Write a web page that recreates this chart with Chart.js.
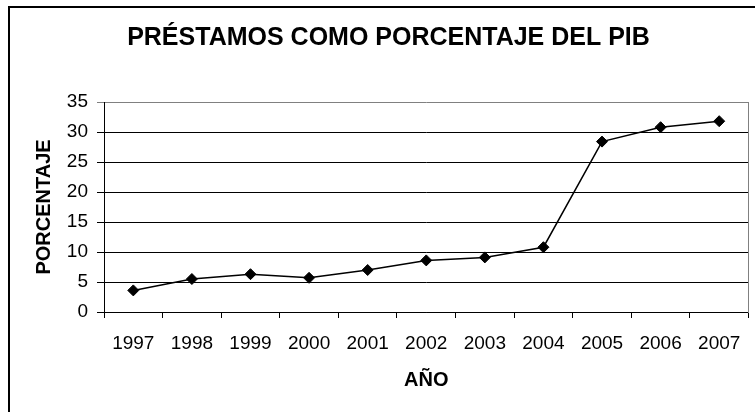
<!DOCTYPE html>
<html>
<head>
<meta charset="utf-8">
<script src="https://cdn.jsdelivr.net/npm/chart.js@4/dist/chart.umd.min.js"></script>
<style>
    html, body { margin: 0; padding: 0; background: #fff; overflow: hidden; }
    #marco { position: absolute; left: 8px; top: 6px; width: 900px; height: 600px; border-left: 2px solid #000; border-top: 2px solid #000; }
    #grafico { position: absolute; left: 0; top: 0; }
</style>
</head>
<body>
<div id="marco"></div>
<canvas id="grafico" width="755" height="412"></canvas>
<script>
const anios = ['1997', '1998', '1999', '2000', '2001', '2002', '2003', '2004', '2005', '2006', '2007'];
const porcentajes = [3.6, 5.5, 6.3, 5.7, 7.0, 8.6, 9.1, 10.8, 28.4, 30.8, 31.8];
const ejeY = { min: 0, max: 35, paso: 5 };

const titulo = 'PRÉSTAMOS COMO PORCENTAJE DEL PIB';
const tituloX = 'AÑO';
const tituloY = 'PORCENTAJE';

const fuente = "'Liberation Sans', Arial, sans-serif";

const ctx = document.getElementById('grafico').getContext('2d');
const miGrafico = new Chart(ctx, {
    type: 'line',
    data: {
        labels: anios,
        datasets: [{
            data: porcentajes,
            borderColor: '#000',
            backgroundColor: '#000',
            borderWidth: 1.5,
            tension: 0,
            pointStyle: 'rectRot',
            pointRadius: 5.5,
            pointBorderWidth: 1,
            pointBackgroundColor: '#000',
            pointBorderColor: '#000'
        }]
    },
    options: {
        responsive: false,
        animation: false,
        layout: { padding: { left: 26, right: 4, top: 0, bottom: 20 } },
        plugins: {
            legend: { display: false },
            tooltip: { enabled: false },
            title: {
                display: true,
                text: titulo,
                color: '#000',
                font: { family: fuente, size: 25, weight: 'bold' },
                padding: { top: 23, bottom: 49 }
            }
        },
        scales: {
            x: {
                offset: true,
                afterFit: (eje) => { eje.height = 80; },
                grid: { offset: true, drawOnChartArea: false, color: '#000', tickLength: 6 },
                border: { color: '#000', width: 1 },
                ticks: { color: '#000', padding: 14, maxRotation: 0, font: { family: fuente, size: 19 } },
                title: {
                    display: true,
                    text: tituloX,
                    color: '#000',
                    font: { family: fuente, size: 20, weight: 'bold' },
                    padding: { top: 0, bottom: 0 }
                }
            },
            y: {
                min: ejeY.min,
                max: ejeY.max,
                afterFit: (eje) => { eje.width = 78; },
                grid: {
                    color: (c) => c.tick && c.tick.value === ejeY.max ? '#808080' : '#000',
                    tickLength: 7
                },
                border: { color: '#000', width: 1 },
                ticks: { stepSize: ejeY.paso, color: '#000', padding: 9, font: { family: fuente, size: 19 } },
                title: {
                    display: true,
                    text: tituloY,
                    color: '#000',
                    font: { family: fuente, size: 20, weight: 'bold' },
                    padding: { top: 6, bottom: 0 }
                }
            },
            yDer: {
                position: 'right',
                min: ejeY.min,
                max: ejeY.max,
                afterFit: (eje) => { eje.width = 0; },
                grid: { drawOnChartArea: false, drawTicks: false },
                border: { color: '#808080', width: 1 },
                ticks: { display: false }
            }
        }
    }
});
</script>
</body>
</html>
